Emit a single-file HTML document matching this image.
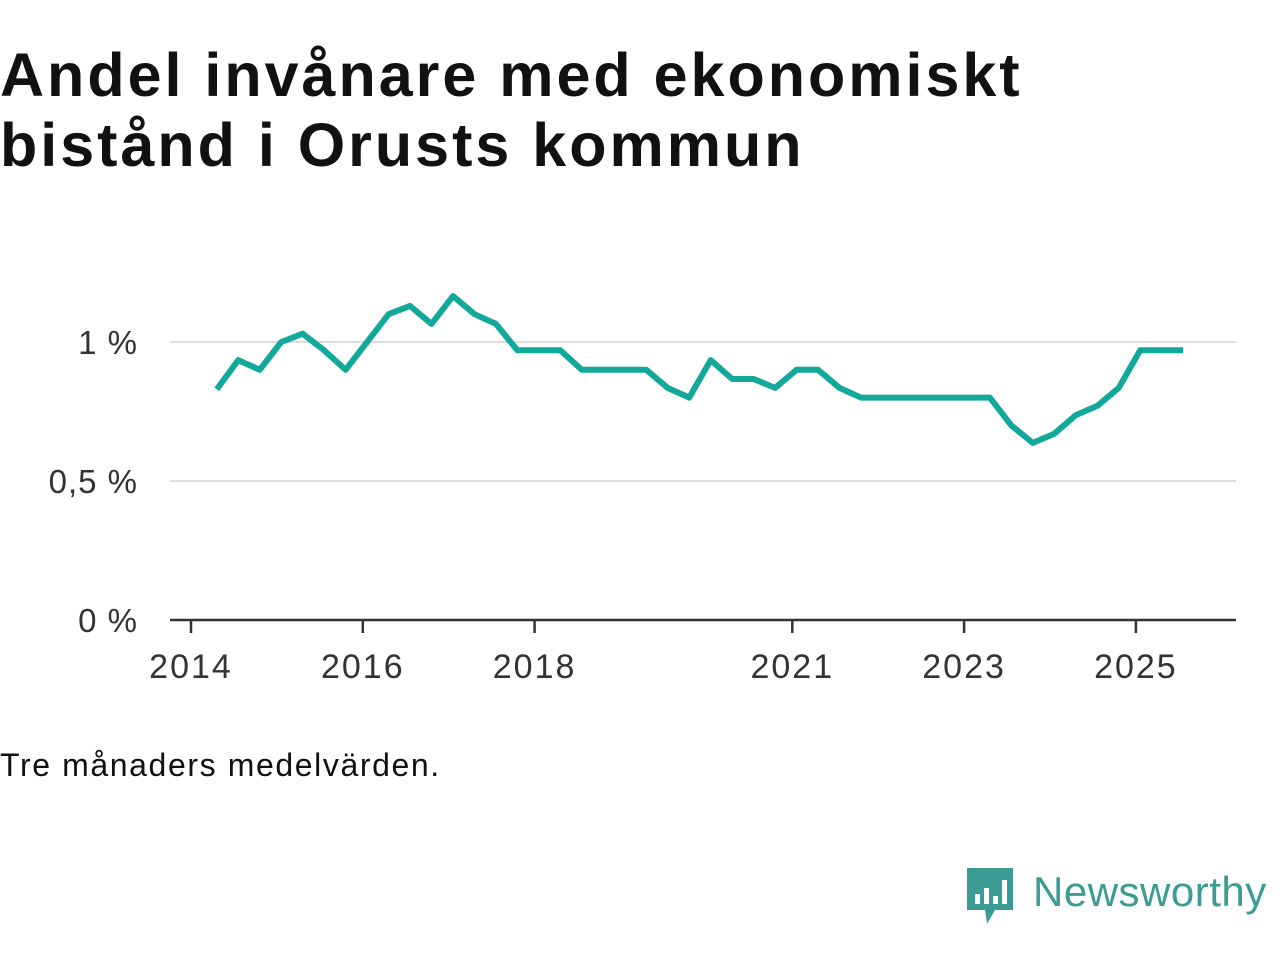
<!DOCTYPE html>
<html><head><meta charset="utf-8"><style>
body{margin:0;width:1280px;height:960px;background:#fff;font-family:"Liberation Sans","DejaVu Sans",sans-serif;position:relative;overflow:hidden}
h1{position:absolute;left:0;top:40px;margin:0;font-size:61px;line-height:70px;font-weight:bold;color:#111;letter-spacing:3px}
.note{position:absolute;left:0;top:747px;font-size:32px;color:#111;letter-spacing:1.6px}
</style></head><body>
<h1>Andel invånare med ekonomiskt<br>bistånd i Orusts kommun</h1>
<svg id="chart" width="1280" height="960" style="position:absolute;left:0;top:0"></svg>
<div class="note">Tre månaders medelvärden.</div>
<div style="position:absolute;left:965px;top:866px;display:flex;align-items:center">
<svg width="50" height="60"><path d="M2 2h46v42H30l-8 14-2-14H2z" fill="#3a9c92"/><rect x="10" y="28" width="5" height="10" fill="#fff"/><rect x="19" y="22" width="5" height="16" fill="#fff"/><rect x="28" y="30" width="5" height="8" fill="#fff"/><rect x="37" y="14" width="5" height="24" fill="#fff"/></svg>
<span style="font-size:42px;color:#3a9c92;margin-left:18px;margin-top:-8px;letter-spacing:0.5px">Newsworthy</span></div>
<script>
const yearTicks=[2014,2016,2018,2021,2023,2025];
const yTicks=[0,0.5,1];
const yTickLabels=["0 %","0,5 %","1 %"];
const startYear=2014.3;
const values=[0.83,0.935,0.90,1.0,1.03,0.97,0.90,1.0,1.10,1.13,1.065,1.165,1.10,1.065,0.97,0.97,0.97,0.90,0.90,0.90,0.90,0.835,0.80,0.935,0.867,0.867,0.835,0.90,0.90,0.835,0.80,0.80,0.80,0.80,0.80,0.80,0.80,0.70,0.637,0.67,0.737,0.77,0.835,0.97,0.97,0.97];
const NS="http://www.w3.org/2000/svg";
const svg=document.getElementById('chart');
const X=y=>191+(y-2014)*85.9;
const Y=v=>620-v*278;
function el(t,a){const e=document.createElementNS(NS,t);for(const k in a)e.setAttribute(k,a[k]);svg.appendChild(e);return e;}
yTicks.forEach((v,i)=>{
  if(v>0){const g=el('line',{x1:170,x2:1236,y1:Y(v),y2:Y(v),stroke:'#ddd','stroke-width':2});
  
  }
  const t=el('text',{x:138,y:Y(v)+12,'text-anchor':'end','font-size':33,'letter-spacing':1,fill:'#333','font-family':'Liberation Sans, sans-serif'});
  t.textContent=yTickLabels[i];
  
  
});
const ax=el('line',{x1:170,x2:1236,y1:620,y2:620,stroke:'#333','stroke-width':2.5});


yearTicks.forEach(yr=>{
  const tk=el('line',{x1:X(yr),x2:X(yr),y1:620,y2:633,stroke:'#333','stroke-width':2.5});
  
  
  const t=el('text',{x:X(yr),y:678,'text-anchor':'middle','font-size':34,'letter-spacing':2,fill:'#333','font-family':'Liberation Sans, sans-serif'});
  t.textContent=yr;
  
  
});
const pts=values.map((v,i)=>X(startYear+i*0.25).toFixed(1)+','+Y(v).toFixed(1)).join(' ');
const line=el('polyline',{points:pts,fill:'none',stroke:'#12a89a','stroke-width':6,'stroke-linejoin':'round'});


</script>
</body></html>
